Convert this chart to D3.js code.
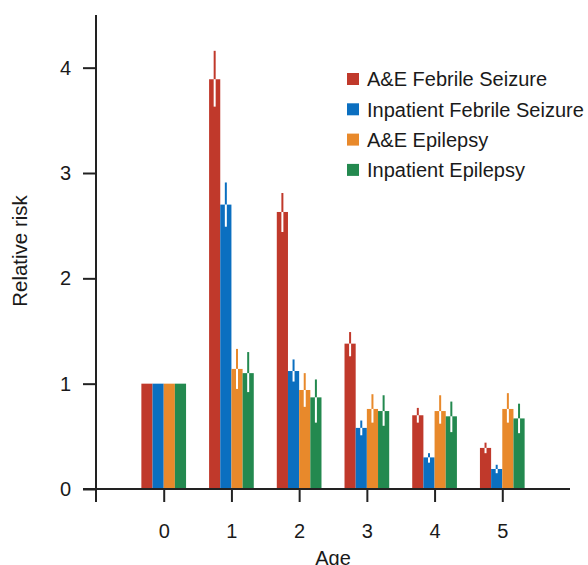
<!DOCTYPE html>
<html lang="en">
<head>
	<meta charset="utf-8"/>
	<title>Relative risk by age</title>
	<script src="https://d3js.org/d3.v7.min.js" charset="utf-8"></script>
	<style>
		body {
			margin: 0;
			background: #fff;
		}
		text {
			font-family: "Liberation Sans", Arial, sans-serif;
			fill: #1a1a1a;
		}
		.axis .domain {
			display: none;
		}
		.axis line {
			stroke: #222;
			stroke-width: 2px;
		}
	</style>
</head>
<body>
<div id="chart"></div>

<script>
	// data
	var ages = [0, 1, 2, 3, 4, 5];
	var series = ["A&E Febrile Seizure", "Inpatient Febrile Seizure", "A&E Epilepsy", "Inpatient Epilepsy"];
	var colors = ["#c0392b", "#0b6fc0", "#e8892b", "#23894f"];
	var yTicks = [0, 1, 2, 3, 4];

	// relative risk per series, one value per age
	var aeFebrile = [1, 3.89, 2.63, 1.38, 0.70, 0.39];
	var inFebrile = [1, 2.70, 1.12, 0.58, 0.30, 0.19];
	var aeEpilepsy = [1, 1.14, 0.94, 0.76, 0.74, 0.76];
	var inEpilepsy = [1, 1.10, 0.87, 0.74, 0.69, 0.67];

	// confidence interval bounds (age 0 is the reference, no interval)
	var aeFebrileLo = [null, 3.63, 2.44, 1.26, 0.63, 0.34];
	var aeFebrileHi = [null, 4.16, 2.81, 1.49, 0.77, 0.44];
	var inFebrileLo = [null, 2.49, 1.02, 0.51, 0.25, 0.15];
	var inFebrileHi = [null, 2.91, 1.23, 0.65, 0.34, 0.23];
	var aeEpilepsyLo = [null, 0.95, 0.78, 0.63, 0.62, 0.63];
	var aeEpilepsyHi = [null, 1.33, 1.10, 0.90, 0.89, 0.91];
	var inEpilepsyLo = [null, 0.92, 0.63, 0.60, 0.54, 0.53];
	var inEpilepsyHi = [null, 1.30, 1.04, 0.89, 0.83, 0.81];

	var values = [aeFebrile, inFebrile, aeEpilepsy, inEpilepsy];
	var lows = [aeFebrileLo, inFebrileLo, aeEpilepsyLo, inEpilepsyLo];
	var highs = [aeFebrileHi, inFebrileHi, aeEpilepsyHi, inEpilepsyHi];

	var width = 588,
		height = 565,
		fontSize = "20px";

	var svg = d3.select("#chart").append("svg")
		.attr("width", width)
		.attr("height", height);

	// x is linear so the axis can run one step past each end
	var x = d3.scaleLinear()
		.domain([-1, 6])
		.range([96, 570]);

	var y = d3.scaleLinear()
		.domain([0, 4.5])
		.range([489, 15]);

	var barW = 0.165;

	// flatten into one row per bar
	var bars = [];
	series.forEach(function(s, j) {
		ages.forEach(function(a, i) {
			bars.push({
				age: a,
				j: j,
				value: values[j][i],
				lo: lows[j][i],
				hi: highs[j][i]
			});
		});
	});

	function left(d) { return x(d.age + (d.j - 2) * barW); }
	function mid(d) { return x(d.age + (d.j - 1.5) * barW); }

	svg.append("g")
		.selectAll("rect")
		.data(bars)
		.enter().append("rect")
			.attr("x", left)
			.attr("y", function(d) { return y(d.value); })
			.attr("width", x(barW) - x(0))
			.attr("height", function(d) { return y(0) - y(d.value); })
			.attr("fill", function(d) { return colors[d.j]; });

	var withCi = bars.filter(function(d) { return d.lo != null; });

	// upper half of the interval, in the bar colour
	svg.append("g")
		.selectAll("line")
		.data(withCi)
		.enter().append("line")
			.attr("x1", mid)
			.attr("x2", mid)
			.attr("y1", function(d) { return y(d.hi); })
			.attr("y2", function(d) { return y(d.value); })
			.attr("stroke", function(d) { return colors[d.j]; })
			.attr("stroke-width", 2);

	// lower half, white inside the bar
	svg.append("g")
		.selectAll("line")
		.data(withCi)
		.enter().append("line")
			.attr("x1", mid)
			.attr("x2", mid)
			.attr("y1", function(d) { return y(d.value); })
			.attr("y2", function(d) { return y(d.lo); })
			.attr("stroke", "#fff")
			.attr("stroke-width", 2);

	// axes
	svg.append("g")
		.attr("class", "axis")
		.attr("transform", "translate(" + x(-1) + ",0)")
		.call(d3.axisLeft(y).tickValues(yTicks).tickSize(13).tickPadding(12).tickFormat(d3.format("d")))
		.selectAll("text")
			.style("font-size", fontSize);

	svg.append("g")
		.attr("class", "axis")
		.attr("transform", "translate(0," + y(0) + ")")
		.call(d3.axisBottom(x).tickValues(ages).tickSize(13).tickPadding(22).tickFormat(d3.format("d")))
		.selectAll("text")
			.style("font-size", fontSize);

	// axis lines cross and run a tick length past each other
	svg.append("line")
		.attr("x1", x(-1)).attr("x2", x(-1))
		.attr("y1", y(4.5)).attr("y2", y(0) + 13)
		.attr("stroke", "#222").attr("stroke-width", 2);

	svg.append("line")
		.attr("x1", x(-1) - 13).attr("x2", x(6))
		.attr("y1", y(0)).attr("y2", y(0))
		.attr("stroke", "#222").attr("stroke-width", 2);

	svg.append("text")
		.attr("transform", "translate(27," + 251 + ") rotate(-90)")
		.attr("text-anchor", "middle")
		.style("font-size", "20.5px")
		.text("Relative risk");

	svg.append("text")
		.attr("x", (x(-1) + x(6)) / 2)
		.attr("y", 565)
		.attr("text-anchor", "middle")
		.style("font-size", fontSize)
		.text("Age");

	// legend
	var legend = svg.append("g")
		.selectAll("g")
		.data(series)
		.enter().append("g")
			.attr("transform", function(d, i) { return "translate(347," + (79 + i * 30.3) + ")"; });

	legend.append("rect")
		.attr("y", -6)
		.attr("width", 12)
		.attr("height", 12)
		.attr("fill", function(d, i) { return colors[i]; });

	legend.append("text")
		.attr("x", 20)
		.attr("dy", "0.36em")
		.style("font-size", fontSize)
		.text(function(d) { return d; });
</script>
</body>
</html>
